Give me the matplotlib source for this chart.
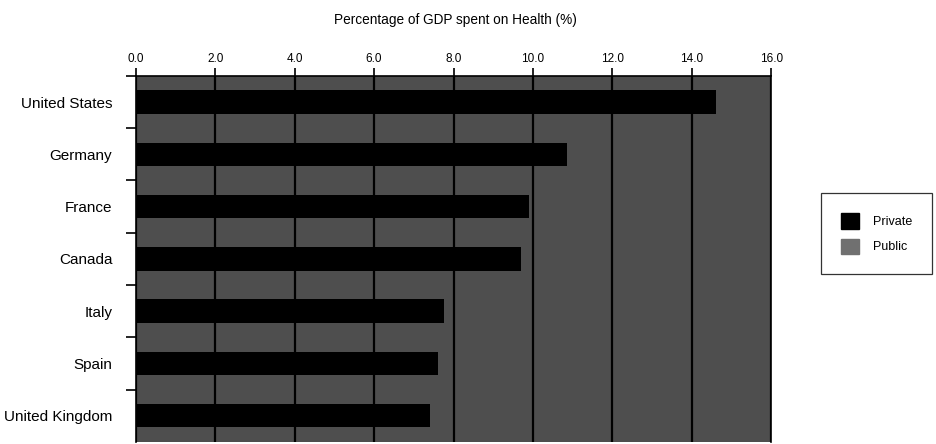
import numpy as np
import matplotlib.pyplot as plt
from matplotlib.patches import Patch

plt.rcParams['font.family'] = ['Liberation Sans', 'DejaVu Sans']

countries = ['United States', 'Germany', 'France', 'Canada', 'Italy', 'Spain', 'United Kingdom']
# total health spending, % of GDP
spend = [14.6, 10.85, 9.9, 9.7, 7.75, 7.6, 7.4]
xticks = [0, 2, 4, 6, 8, 10, 12, 14, 16]

fig = plt.figure(figsize=(9.37, 4.44), dpi=100)
ax = fig.add_axes([0.145, 0.005, 0.678, 0.824])
ax.set_facecolor('#4e4e4e')

y = np.arange(len(countries))
ax.barh(y, spend, height=0.45, color='black', zorder=3)

ax.set_xlim(0, 16)
ax.set_ylim(len(countries) - 0.5, -0.5)

# axis on top, ticks pointing out
ax.xaxis.tick_top()
ax.set_xticks(xticks)
ax.set_xticklabels([f'{v:.1f}' for v in xticks], fontsize=8.5)
ax.tick_params(axis='x', direction='out', length=6, width=1.2, pad=2)
ax.grid(axis='x', color='black', linewidth=1.6, zorder=1)

# category labels between boundary ticks
ax.set_yticks(y)
ax.set_yticklabels(countries, fontsize=11)
ax.set_yticks(np.arange(len(countries)) - 0.5, minor=True)
ax.tick_params(axis='y', which='major', length=0, pad=17)
ax.tick_params(axis='y', which='minor', direction='out', length=7.5, width=1.2)

ax.spines['bottom'].set_visible(False)
for s in ['top', 'left', 'right']:
    ax.spines[s].set_linewidth(1.2)

fig.text(0.486, 0.955, 'Percentage of GDP spent on Health (%)', ha='center', va='center', fontsize=9.8)

handles = [Patch(facecolor='black', edgecolor='black', label='Private'),
           Patch(facecolor='#707070', edgecolor='#707070', label='Public')]
leg = fig.legend(handles=handles, loc='center', bbox_to_anchor=(0.9355, 0.474),
                 fontsize=9, frameon=True, fancybox=False, handlelength=1.5,
                 handleheight=1.5, handletextpad=1.1, borderpad=1.6,
                 labelspacing=0.8, borderaxespad=0)
leg.get_frame().set_edgecolor('black')
leg.get_frame().set_linewidth(0.9)

fig.savefig('out.png', dpi=100)
